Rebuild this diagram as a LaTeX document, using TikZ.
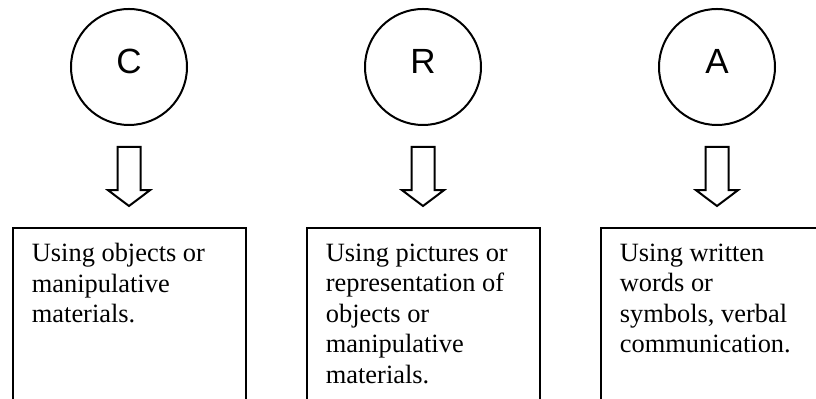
\documentclass[tikz,border=0pt]{standalone}
\usepackage{fontspec}
\setmainfont{Liberation Serif}
\newfontfamily\lettersans{Liberation Sans}
\usetikzlibrary{positioning,shapes.arrows}

\begin{document}
\begin{tikzpicture}[
      x=1pt, y=1pt,
      node distance=10pt, % gap between circle, arrow and box
      letter/.style={circle, draw, line width=1pt, minimum size=58pt, inner sep=0pt, text height=12.5pt, text depth=6pt, font=\lettersans\fontsize{17.5}{20}\selectfont},
      hollow/.style={single arrow, draw, line width=1pt, rotate=-90, minimum height=29.5pt, minimum width=20pt, inner xsep=0pt, inner ysep=5.25pt, single arrow head extend=4.75pt, single arrow tip angle=106},
      panel/.style={rectangle, draw, line width=1pt, minimum width=116.5pt, minimum height=100pt, inner sep=0pt},
      words/.style={align=left, inner sep=0pt, font=\fontsize{13.2}{15.25}\selectfont}
  ]
      \useasboundingbox (0,0) rectangle (408,-199.5);
      \clip (0,0) rectangle (408,-199.5);

      % Circles - one per stage
      \node (c) [letter] at (64.5,-33.5) {C};
      \node (r) [letter, right=88pt of c] {R};
      \node (a) [letter, right=88pt of r] {A};

      % Hollow arrows below the circles
      \node (carrow) [hollow, below=of c, anchor=tail] {};
      \node (rarrow) [hollow, below=of r, anchor=tail] {};
      \node (aarrow) [hollow, below=of a, anchor=tail] {};

      % Boxes - they run off the bottom edge
      \node (cbox) [panel, below=of carrow.tip, anchor=north] {};
      \node (rbox) [panel, below=of rarrow.tip, anchor=north] {};
      \node (abox) [panel, below=of aarrow.tip, anchor=north] {};

      % Box texts
      \node (ctext) [words, below right=8pt and 10pt of cbox.north west] {Using objects or\\ manipulative\\ materials.};
      \node (rtext) [words, below right=8pt and 10pt of rbox.north west] {Using pictures or\\ representation of\\ objects or\\ manipulative\\ materials.};
      \node (atext) [words, below right=8pt and 10pt of abox.north west] {Using written\\ words or\\ symbols, verbal\\ communication.};
  \end{tikzpicture}
\end{document}
